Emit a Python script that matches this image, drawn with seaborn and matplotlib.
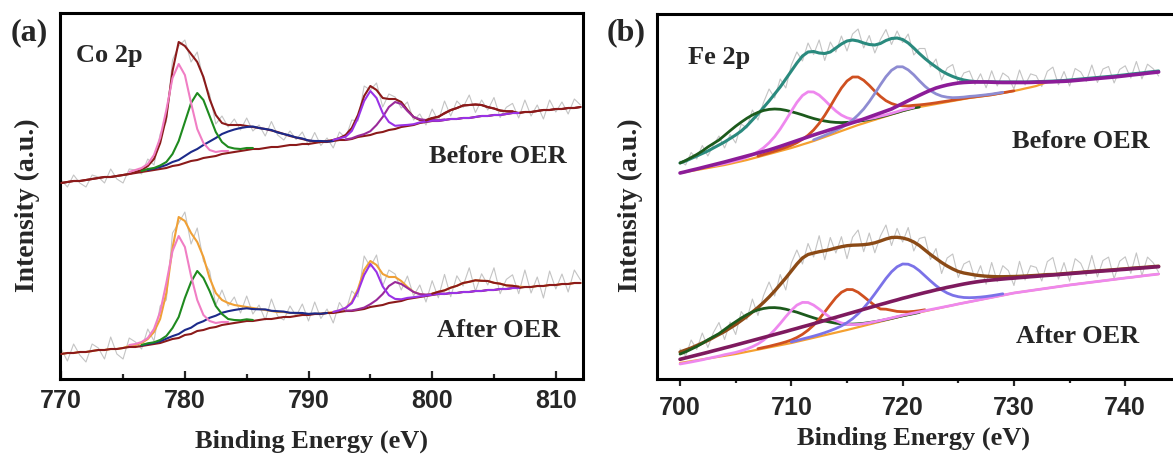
import numpy as np
import matplotlib
matplotlib.use("Agg")
import matplotlib.pyplot as plt
from matplotlib.ticker import MultipleLocator
import seaborn as sns

# ---------------- Panel (a): Co 2p, grid 770 -> 812 eV, step 0.5 eV ----------------
a_start = 770.0
# Before OER (upper spectrum)
bg_a_before = [196,197,198,198,199,200,201,202,202,203,
               204,205,206,207,208,209,210,211,213,214,
               216,218,219,221,222,223,225,226,227,228,
               229,230,230,231,232,232,233,234,234,235,
               235,236,237,237,238,239,239,240,242,243,
               244,246,247,249,250,252,253,254,256,257,
               258,258,259,260,260,261,261,262,263,263,
               264,264,265,266,266,267,267,268,269,269,
               270,270,271,271,272]
env_a_before = [196,197,198,198,199,200,201,202,202,203,
                204,205,207,209,213,220,236,262,308,337,
                333,325,317,302,280,264,256,254,254,254,
                253,252,251,250,248.5,247,245,243,241.5,240,
                238.5,237.5,237.5,238,239,241,244,251,264,283,
                293,289,281,280,280,277,269,262,259,259,
                261,262,266,269,271,273.5,274,274.5,274,272,
                270.5,268.5,267.7,267.6,266,267,267,268,269,269,
                270,270,271,271,272]
noise_a_before = [3,-5,6,-2,-7,4,1,-6,8,-3,
                  -8,5,2,-4,7,-6,9,-5,11,-4,
                  6,-8,10,-3,5,-9,7,-2,6,-5,
                  8,-4,3,-7,9,-3,-6,5,-2,7,
                  -5,9,-4,3,-8,6,-3,8,-6,10,
                  -4,7,-9,5,2,-6,8,-3,6,-5,
                  9,-4,12,-6,7,-2,10,-8,5,-3,
                  11,-7,4,8,-5,12,-4,6,-9,10,
                  -3,7,-6,9,2]
# components: (start energy, heights above background)
pink_a_before = (775.5, [2,3,4,7,15,31,58,88,101,88,58,31,15,7,4,3,2])
green_a_before = (776.5, [1,2,2,3.5,6,12,24,41,58,67,58,41,24,12,6,3.5,2,2,1])
blue_a_before = (777.0, [1,1.5,2,3,4,5,7,9,11,13,15.5,18,20,21.5,22.5,23,23,22.5,21,19,
                         17,14.5,12,9.5,7.5,5.5,3.5,2,1,0.5,0])
violet_a_before = (792.0, [1.1,1.7,3.2,8,19,35,44,35,19,8,3.2,1.7,1.1,0.8,0.6,0.4,0.3,0.2,
                           0,0,0,0,0,0,0,0,0,0,0,0,0])
purple_a_before = (793.0, [0.6,0.7,1.1,1.9,3.8,8,15,23,27,23,15,8,3.8,1.9,1.1,0.7,0.6])
sat_a_before = (799.5, [1.6,2.7,4.4,6.5,8.8,10.9,12.5,13,12.5,10.9,8.8,6.5,4.4,2.7,1.6])

# After OER (lower spectrum)
bg_a_after = [25,26,26,27,27,28,29,29,30,30,
              31,32,32,33,34,35,36,38,40,41,
              44,45,48,49,51,52,54,55,56,57,
              58,58,59,60,60,61,62,62,63,64,
              64,65,65,66,66,67,68,68,69,70,
              72,73,74,76,77,78,80,81,82,83,
              84,85,85,86,86,87,87,88,88,89,
              89,90,90,91,91,92,92,93,93,94,
              94,95,95,96,96]
env_a_after = [25,26,26,27,27,28,29,29,30,30,
               31,33,34,36,40,47,60,86,131,162,
               158,146,137,122,101,86,79,76,74,73,
               72,71,70,69,68,67,67,66,66,65,
               65,65,65.5,66,67,68.5,71,77,90,109,
               118,114,105,102,102,98,92,87,85,84,
               85.3,87.2,88.6,91.3,93.2,96,97.2,98.7,98.2,98,
               96.2,95.3,93.6,93.2,92.3,92,92,93,93,94,
               94,95,95,96,96]
noise_a_after = [5,-8,9,-3,-10,7,2,-9,12,-5,
                 -11,8,3,-6,10,-9,13,-7,15,-6,
                 9,-11,14,-4,7,-12,10,-3,8,-7,
                 11,-6,4,-10,12,-4,-8,7,-3,10,
                 -7,12,-5,4,-11,8,-4,11,-8,14,
                 -6,10,-12,7,3,-9,11,-4,9,-7,
                 13,-6,16,-9,10,-3,14,-11,7,-4,
                 15,-10,6,11,-7,17,-6,9,-12,14,
                 -4,10,-8,13,3]
pink_a_after = (775.5, [2,3,4,7,15,31,58,88,102,88,58,31,15,7,4,3,2])
green_a_after = (776.5, [1,1.7,1.7,3,5,11,21,37,52,60,52,37,21,11,5,3,1.7,1.7,1])
blue_a_after = (776.5, [0.5,1,1.2,1.7,2.3,2.9,4,5,6.3,7.4,8.8,10.2,11.3,12.2,12.8,13,13,12.7,
                        11.9,10.7,9.6,8.2,6.8,5.4,4.2,3.1,2,1.1,0.6,0.3,0])
violet_a_after = (792.0, [1.1,1.7,3.1,7.8,18.6,34,43,34,18.6,7.8,3.1,1.7,1.1,0.8,0.6,0.4,0.3,0.2,
                          0,0,0,0,0,0,0,0,0,0,0,0,0])
purple_a_after = (793.0, [0.4,0.5,0.8,1.4,2.8,6,11,17,20,17,11,6,2.8,1.4,0.8,0.5,0.4])
sat_a_after = (800.0, [1.3,2.2,3.6,5.3,7.2,9,10.2,10.7,10.2,9,7.2,5.3,3.6,2.2,1.3])

# ---------------- Panel (b): Fe 2p, grid 700 -> 743 eV, step 0.5 eV ----------------
b_start = 700.0
# Before OER
purple_b_before = [206,207.3,208.7,210,211.4,212.8,214.2,215.6,217,218.5,
                   220,221.5,223,224.5,226,227.5,229,230.8,232.6,234.5,
                   236.4,238.3,240.2,242.1,244,245.8,247.5,249.3,251,252.8,
                   254.5,256.3,258,260,262,264,266,268,270,272.8,
                   275.5,278.3,281,283.7,286.3,288.8,291,292.6,294,295.1,
                   296,296.5,296.8,297,297,297,296.8,296.6,296.5,296.5,
                   296.5,296.5,296.5,296.6,296.8,296.9,297,297.2,297.5,297.7,
                   298,298.5,299,299.5,300,300.5,301,301.5,302,302.6,
                   303.2,303.9,304.5,305.1,305.8,306.4,307]
env_b_before = [216,218,220.5,223,225.5,228,231,234,237,240.5,
                244,248,253,259,265,271.5,278,285,292,300,
                308,316,323,327,327.5,326,325.5,327,331,335,
                338,339,338,336,334.5,334,335.5,338.5,340.5,341,
                339.5,336,331,325.5,320.5,316,312,308,305,302.5,
                300.5,299,298,297.5,297.2,297.2,297.2,297,297,297,
                297,297,297,297.1,297.3,297.5,297.7,297.9,298.2,298.5,
                299,299.5,300,300.5,301,301.5,302,302.5,303,303.6,
                304.2,304.9,305.5,306.1,306.8,307.4,308]
noise_b_before = [2,-4,6,-3,8,-5,3,9,-6,4,
                  -8,7,-2,10,-6,5,12,-4,8,-9,
                  6,11,-5,9,-3,13,-7,10,-4,8,
                  -10,6,12,-5,9,-8,4,11,-6,7,
                  -3,9,-7,5,10,-4,8,-9,6,12,
                  -5,7,10,-3,8,-6,11,-4,9,5,
                  -7,12,-3,8,6,-5,10,14,-4,9,
                  -6,11,7,-3,13,-5,8,10,-7,6,
                  9,-4,12,-6,8,3,-5]
orange_b_before = [206,207,208,209,210,211,212,213,214,215.2,
                   216.5,217.7,219,220.5,222,223.5,225,226.5,228,229.5,
                   231,232.7,234.5,236.2,238,240,242,244,246,248,
                   250,252,254,255.7,257.5,259.2,261,262.7,264.5,266.2,
                   268,269.5,271,272,273,274,275,276,277,278,
                   279,280,281,281.7,282.5,283.2,284,285,286,287,
                   288,289.2,290.5,291.7,293,295,297]
green_b_before = (700.0, [10,11.5,13.5,15.5,18,21,23.5,26,29.6,33.1,36.3,39.2,41.7,43.5,44.6,45,
                          44.6,43.5,41.7,39.2,36.3,33.1,29.6,26,22.5,19.1,16,13.1,10.6,8.4,
                          6.6,5,3.8,2.8,2.1,1.5,1,0.7,0.5,0.3,0.2,0.1,0,0])
pink_b_before = (703.0, [1.2,1.4,1.5,1.6,1.8,2.1,2.8,3.7,5.3,7.7,11.2,15.9,22,29.2,36.8,43.9,49,51,
                         49,43.9,36.8,29.2,22,15.9,11.2,7.7,5.3,3.7,2.8,2.1,1.8,1.4,1.2,1.1,1,0.8,0.6])
redorange_b_before = (707.0, [0.9,1.1,1.2,1.4,1.7,2.1,2.7,3.6,5.2,7.5,11,15.6,21.6,28.6,36.1,43,48,50,
                              48,43,36.1,28.6,21.6,15.6,11,7.5,5.2,3.6,2.7,2.1,1.7,1.4,1.2,1.1,0.9,
                              0.8,0.7,0.6,0.5,0.5,0.4,0.4,0.3,0.3,0.2,0.2,0.2])
lavender_b_before = (712.0, [1.1,1.3,1.6,1.9,2.5,3.3,4.8,6.9,10.1,14.3,19.8,26.3,33.2,39.6,44.2,46,
                             44.2,39.6,33.2,26.3,19.8,14.3,10.1,6.9,4.8,3.3,2.5,1.9,1.6,1.3,
                             1.1,1.0,0.9,0.8,0.7])

# After OER
purple_b_after = [19.7,21.1,22.5,23.9,25.3,26.7,28.2,29.6,31.1,32.5,
                  34,35.5,37,38.5,40,41.5,43,44.5,46,47.5,
                  49.1,50.6,52.2,53.7,55.3,56.9,58.5,60.1,61.7,63.3,
                  64.9,66.5,68.1,69.7,71.3,72.9,74.5,76,77.6,79.1,
                  80.7,82.1,83.6,85,86.4,87.7,89.1,90.3,91.6,92.7,
                  93.9,95,96,96.9,97.7,98.4,99,99.5,100,100.5,
                  100.9,101.4,101.8,102.3,102.7,103.2,103.6,104,104.4,104.9,
                  105.3,105.8,106.2,106.7,107.1,107.6,108,108.4,108.8,109.3,
                  109.7,110.2,110.6,111,111.4,111.9,112.3]
env_b_after = [27,29,31,33.5,36,38.5,41.5,44.5,47.5,51,
               54.5,58.5,62.5,67,71.5,76.5,82,88,94.5,101,
               108,115,121,124.5,126,127.3,128.3,129.5,131,132.3,
               133.3,133.8,134,134.3,135,136.2,138,140,141.5,141.7,
               141,139.5,137,133.5,129,124.5,120.5,116.5,113,110,
               107.5,106,105,104,103.3,102.8,102.5,102.3,102.3,102.4,
               102.5,102.7,103,103.3,103.6,104,104.4,104.5,104.9,105.4,
               105.8,106.3,106.7,107.2,107.6,108.1,108.5,108.9,109.3,109.8,
               110.2,110.7,111.1,111.5,111.9,112.4,112.8]
noise_b_after = [3,-6,8,-4,10,-7,5,12,-8,6,
                 -10,9,-3,13,-8,7,15,-5,10,-12,
                 8,14,-6,11,-4,16,-9,12,-5,10,
                 -13,8,15,-7,11,-10,5,14,-8,9,
                 -4,12,-9,7,13,-5,10,-11,8,15,
                 -6,9,13,-4,10,-8,14,-5,11,6,
                 -9,15,-4,10,8,-6,13,17,-5,11,
                 -8,14,9,-4,16,-6,10,13,-9,8,
                 12,-5,15,-8,10,4,-6]
orange_b_after = [16,16.9,17.8,18.7,19.6,20.5,21.4,22.3,23.2,24.1,
                  25,26.1,27.2,28.3,29.4,30.5,31.6,32.7,33.8,34.9,
                  36,37.3,38.6,39.9,41.2,42.5,43.8,45.1,46.4,47.7,
                  49,50.4,51.8,53.2,54.6,56,57.4,58.8,60.2,61.6,
                  63,64.2,65.4,66.6,67.8,69,70.2,71.4,72.6,73.8,
                  75,76.1,77.2,78.3,79.4,80.5,81.6,82.7,83.8,84.9,
                  86,86.8,87.6,88.4,89.2,90,90.8,91.6,92.4,93.2,
                  94,94.7,95.4,96.1,96.8,97.5,98.2,98.9,99.6,100.3,
                  101,101.6,102.3,103,103.7,104.3,105]
green_b_after = (700.0, [8.9,10.2,12,13.8,16,18.7,20.9,23.1,26.3,29.5,32.3,34.9,37.1,38.7,39.7,40,
                         39.7,38.7,37.1,34.9,32.3,29.5,26.3,23.1,20,17,14.2,11.7,9.4,7.5,
                         5.9,4.5,3.4,2.5,1.9,1.3,0.9,0.6,0.4,0.3,0.2,0.1,0,0])
pink_b_after = (700.0, [-1,-0.9,-0.8,-0.6,-0.4,0,0.3,0.6,1.1,1.3,1.6,2.1,2.8,4.0,5.7,8.3,11.9,
                        16.4,21.7,27.4,32.7,36.6,38,36.6,32.7,27.4,21.7,16.4,11.9,8.3,5.7,4.0,2.8,
                        2.1,1.6,1.3,1.1,0.95,0.84,0.75,0.68,0.62,0.57,0.5,0.46,0.4,0.3,0.2,0.1,
                        0,0,0,0,0,0,0,0,0,0,0,0,0,0,0,0,0,0,0,0,0,0,0,0,0,0,0,0,0,0,0,0,0,0,0,0,0,0])
redorange_b_after = (707.0, [0.9,1.0,1.1,1.4,1.7,2.2,3.0,4.2,6.1,8.9,12.6,17.5,23.2,29.2,34.9,39,40.5,
                             39,34.9,29.2,23.2,17.5,12.6,11,8.5,6,4.3,3,2.2,1.7,1.4])
lavender_b_after = (710.0, [1.1,1.2,1.4,1.5,1.7,2.0,2.5,3.2,4.1,5.4,7.3,9.9,13.4,17.8,23.1,29.1,35.4,
                            41.7,47,50.6,52,50.6,47,41.7,35.4,29.1,23.1,17.8,13.4,9.9,7.3,5.4,4.1,
                            3.2,2.5,2.0,1.7,1.5,1.4])

# ---------------- styling ----------------
sns.set_style("white")
plt.rcParams['font.family'] = ['Liberation Serif', 'DejaVu Serif']

GRAY = "#c4c4c4"
DARKRED = "#8b1a1a"

fig = plt.figure(figsize=(11.73, 4.54), dpi=100)
axa = fig.add_axes([60/1173, 1-379/454, 523/1173, 366/454])
axb = fig.add_axes([657/1173, 1-379/454, 519/1173, 365/454])


def draw(ax, x, y, color, lw, z):
    sns.lineplot(x=np.asarray(x, float), y=np.asarray(y, float), ax=ax, color=color,
                 linewidth=lw, estimator=None, sort=False, zorder=z, legend=False)


def comp(ax, x0, base, spec, color, lw, z):
    start, h = spec
    h = np.asarray(h, float)
    base = np.asarray(base, float)
    i0 = int(round((start - x0) / 0.5))
    n = min(len(h), len(base) - i0)
    x = start + 0.5 * np.arange(n)
    draw(ax, x, base[i0:i0 + n] + h[:n], color, lw, z)


def grid(x0, n):
    return x0 + 0.5 * np.arange(n)


# ---- panel a ----
for bg, env, noise, env_col, pk, gr, bl, vi, pu, sa in [
        (bg_a_before, env_a_before, noise_a_before, DARKRED, pink_a_before, green_a_before,
         blue_a_before, violet_a_before, purple_a_before, sat_a_before),
        (bg_a_after, env_a_after, noise_a_after, "#f0a035", pink_a_after, green_a_after,
         blue_a_after, violet_a_after, purple_a_after, sat_a_after)]:
    n = min(len(env), len(noise))
    x = grid(a_start, n)
    draw(axa, x, np.asarray(env[:n], float) + np.asarray(noise[:n], float), GRAY, 0.8, 1)
    draw(axa, grid(a_start, len(env)), env, env_col, 1.5, 2)
    draw(axa, grid(a_start, len(bg)), bg, DARKRED, 1.5, 3)
    comp(axa, a_start, bg, bl, "#1c2a8a", 1.5, 4)
    comp(axa, a_start, bg, gr, "#1f8a1f", 1.5, 5)
    comp(axa, a_start, bg, pk, "#f07ec4", 1.5, 6)
    comp(axa, a_start, bg, pu, "#9a2a9a", 1.5, 7)
    comp(axa, a_start, bg, vi, "#9a32e6", 1.5, 8)
    comp(axa, a_start, bg, sa, DARKRED, 1.5, 9)

axa.set_xlim(769.9, 812.2)
axa.set_ylim(0, 366)

# ---- panel b ----
# before
n = min(len(env_b_before), len(noise_b_before))
draw(axb, grid(b_start, n), np.asarray(env_b_before[:n], float) + np.asarray(noise_b_before[:n], float), GRAY, 0.8, 1)
draw(axb, grid(b_start, len(env_b_before)), env_b_before, "#2a8a7e", 2.2, 2)
draw(axb, grid(b_start, len(orange_b_before)), orange_b_before, "#f5a030", 1.6, 3)
comp(axb, b_start, orange_b_before, green_b_before, "#1c5a1c", 2.0, 4)
comp(axb, b_start, orange_b_before, pink_b_before, "#ee88ee", 2.0, 5)
comp(axb, b_start, orange_b_before, redorange_b_before, "#cf5020", 2.0, 6)
comp(axb, b_start, orange_b_before, lavender_b_before, "#8e8cd2", 2.0, 7)
draw(axb, grid(b_start, len(purple_b_before)), purple_b_before, "#8c1c98", 2.6, 8)
# after
n = min(len(env_b_after), len(noise_b_after))
draw(axb, grid(b_start, n), np.asarray(env_b_after[:n], float) + np.asarray(noise_b_after[:n], float), GRAY, 0.8, 1)
draw(axb, grid(b_start, len(env_b_after)), env_b_after, "#8b4a16", 2.4, 2)
draw(axb, grid(b_start, len(orange_b_after)), orange_b_after, "#f5a030", 1.6, 3)
comp(axb, b_start, orange_b_after, green_b_after, "#1c5a1c", 2.0, 4)
comp(axb, b_start, orange_b_after, redorange_b_after, "#cf5020", 2.0, 5)
comp(axb, b_start, orange_b_after, pink_b_after, "#ee88ee", 2.0, 6)
comp(axb, b_start, orange_b_after, lavender_b_after, "#7b72e8", 2.0, 7)
draw(axb, grid(b_start, len(purple_b_after)), purple_b_after, "#7e1a5e", 2.6, 8)

axb.set_xlim(697.93, 744.56)
axb.set_ylim(0, 365)

# ---- axes styling ----
for ax, direction, majlen, minlen in [(axa, 'in', 6, 3.6), (axb, 'out', 5, 3)]:
    for s in ax.spines.values():
        s.set_linewidth(2.2)
        s.set_color('black')
    ax.set_yticks([])
    ax.xaxis.set_minor_locator(MultipleLocator(5))
    ax.xaxis.set_major_locator(MultipleLocator(10))
    ax.tick_params(axis='x', which='major', direction=direction, length=majlen, width=1.6,
                   labelsize=18, pad=7, bottom=True, top=False)
    ax.tick_params(axis='x', which='minor', direction=direction, length=minlen, width=1.6,
                   bottom=True, top=False)
    for lab in ax.get_xticklabels():
        lab.set_fontfamily(['Liberation Sans', 'DejaVu Sans'])
        lab.set_fontweight('bold')
    ax.set_xlabel("Binding Energy (eV)", fontsize=19, fontweight='bold')
    ax.set_ylabel("Intensity (a.u.)", fontsize=20, fontweight='bold', va='center')
    ax.grid(False)

axa.xaxis.set_label_coords(0.48, -0.139)
axa.yaxis.set_label_coords(-0.063, 0.475)
axb.xaxis.set_label_coords(0.495, -0.131)
axb.yaxis.set_label_coords(-0.052, 0.475)

tk = dict(fontsize=19, fontweight='bold', va='baseline')
axa.text(0.0315, 0.866, "Co 2p", transform=axa.transAxes, ha='left', **tk)
axa.text(0.968, 0.590, "Before OER", transform=axa.transAxes, ha='right', **tk)
axa.text(0.956, 0.115, "After OER", transform=axa.transAxes, ha='right', **tk)
axb.text(0.0597, 0.863, "Fe 2p", transform=axb.transAxes, ha='left', **tk)
axb.text(0.950, 0.633, "Before OER", transform=axb.transAxes, ha='right', **tk)
axb.text(0.929, 0.0986, "After OER", transform=axb.transAxes, ha='right', **tk)

fig.text(11/1173, 1-40/454, "(a)", fontsize=23, fontweight='bold', ha='left', va='baseline')
fig.text(607/1173, 1-40/454, "(b)", fontsize=23, fontweight='bold', ha='left', va='baseline')

fig.savefig("out.png", dpi=100)
